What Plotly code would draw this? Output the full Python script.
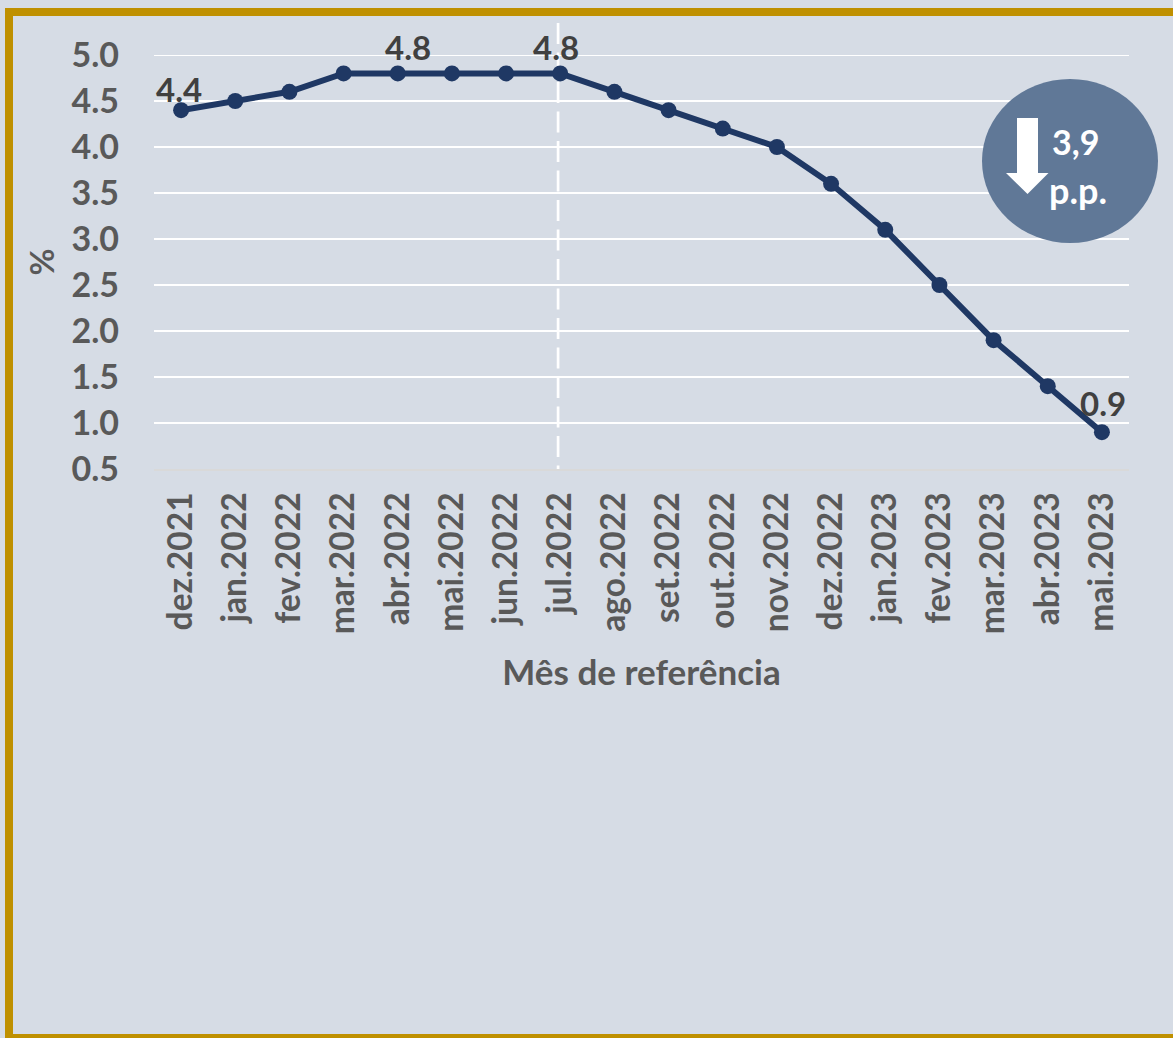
import plotly.graph_objects as go

months = ["dez.2021","jan.2022","fev.2022","mar.2022","abr.2022","mai.2022","jun.2022","jul.2022","ago.2022",
          "set.2022","out.2022","nov.2022","dez.2022","jan.2023","fev.2023","mar.2023","abr.2023","mai.2023"]
values = [4.4,4.5,4.6,4.8,4.8,4.8,4.8,4.8,4.6,4.4,4.2,4.0,3.6,3.1,2.5,1.9,1.4,0.9]
y_ticks = [0.5,1.0,1.5,2.0,2.5,3.0,3.5,4.0,4.5,5.0]
labelled = {0:"4.4", 4:"4.8", 7:"4.8", 17:"0.9"}

W, H = 1173, 1038
L, R, T, B = 154, 1129, 55, 469
BG = "#D6DCE5"; GOLD = "#BF9000"; NAVY = "#1F3864"; CIRCLE = "#607897"
FONT = "Lato"
def px(x): return (x - L) / (R - L)
def py(y): return (B - y) / (B - T)

fig = go.Figure(go.Scatter(x=months, y=values, mode="lines+markers",
    line=dict(color=NAVY, width=6), marker=dict(color=NAVY, size=16), cliponaxis=False))

shapes = [
    dict(type="line", xref="paper", yref="y", x0=0, x1=1, y0=5.0, y1=5.0,
         line=dict(color="white", width=2), layer="below"),
    dict(type="line", xref="x", yref="paper", x0=6.96, x1=6.96, y0=py(23), y1=py(469),
         line=dict(color="white", width=2.7, dash="21px,8.5px"), layer="below"),
    dict(type="rect", xref="paper", yref="paper", x0=px(5), x1=px(1173), y0=py(8), y1=py(16),
         fillcolor=GOLD, line_width=0),
    dict(type="rect", xref="paper", yref="paper", x0=px(5), x1=px(13), y0=py(8), y1=py(1038),
         fillcolor=GOLD, line_width=0),
    dict(type="rect", xref="paper", yref="paper", x0=px(5), x1=px(1173), y0=py(1034), y1=py(1038),
         fillcolor=GOLD, line_width=0),
    dict(type="circle", xref="paper", yref="paper", x0=px(982), x1=px(1158), y0=py(79), y1=py(243),
         fillcolor=CIRCLE, line_width=0),
    dict(type="path", xref="paper", yref="paper", fillcolor="white", line_width=0,
         path="M {} {} L {} {} L {} {} L {} {} L {} {} L {} {} L {} {} Z".format(
             px(1017), py(118), px(1038), py(118), px(1038), py(173), px(1048.5), py(173),
             px(1027.5), py(194), px(1006), py(173), px(1017), py(173))),
]

anns = []
offs = {0:(-2,21), 4:(10,26), 7:(-4,26), 17:(1,29)}
for i, t in labelled.items():
    anns.append(dict(x=months[i], y=values[i], text=t, showarrow=False, xshift=offs[i][0], yshift=offs[i][1],
                     font=dict(family=FONT, size=33, color="#404040", weight="bold")))
anns.append(dict(xref="paper", yref="paper", x=px(1075), y=py(141), xanchor="center", yanchor="middle",
                 text="3,9", showarrow=False, font=dict(family=FONT, size=34, color="white", weight="bold")))
anns.append(dict(xref="paper", yref="paper", x=px(1078), y=py(190), xanchor="center", yanchor="middle",
                 text="p.p.", showarrow=False, font=dict(family=FONT, size=36, color="white", weight="bold")))

fig.update_layout(
    width=W, height=H, margin=dict(l=L, r=W-R, t=T, b=H-B, autoexpand=False),
    paper_bgcolor=BG, plot_bgcolor=BG, showlegend=False,
    shapes=shapes, annotations=anns,
    font=dict(family=FONT, color="#595959"),
    xaxis=dict(type="category", categoryorder="array", categoryarray=months, range=[-0.5, 17.5],
               tickangle=-90, showgrid=False, showline=True, linecolor="#D9D9D9", linewidth=2, ticks="",
               automargin=False, ticklabelstandoff=8, tickfont=dict(family=FONT, size=33.5, color="#595959", weight="bold"),
               title=dict(text="Mês de referência", standoff=27,
                          font=dict(family=FONT, size=35, color="#595959", weight="bold"))),
    yaxis=dict(range=[0.5, 5.0], tickvals=y_ticks, ticktext=[f"{v:.1f}" for v in y_ticks],
               showgrid=True, gridcolor="white", gridwidth=2, zeroline=False, showline=False, ticks="",
               automargin=False, ticklabelstandoff=34, tickfont=dict(family=FONT, size=34, color="#595959", weight="bold"),
               title=dict(text="%", standoff=6, font=dict(family=FONT, size=33, color="#595959", weight="bold"))),
)
fig.write_html("out.html", config=dict(displayModeBar=False),
               post_script="document.body.style.margin='0';document.body.style.overflow='hidden';")
